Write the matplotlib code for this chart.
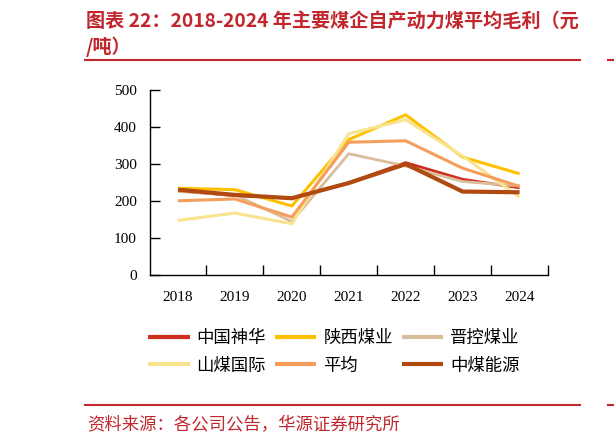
import matplotlib
matplotlib.use("Agg")
import matplotlib.pyplot as plt
import numpy as np

# data (元/吨)
years = ['2018', '2019', '2020', '2021', '2022', '2023', '2024']
shenhua = [228, 215, 208, 250, 304, 259, 236]
shaanxi = [235, 231, 187, 366, 433, 319, 274]
jinkong = [226, 217, 145, 328, 295, 253, 241]
shanmei = [148, 168, 139, 382, 420, 322, 211]
average = [201, 206, 157, 359, 363, 289, 240]
zhongmei = [231, 217, 208, 249, 300, 226, 224]

names = ['中国神华', '陕西煤业', '晋控煤业', '山煤国际', '平均', '中煤能源']
series = [shenhua, shaanxi, jinkong, shanmei, average, zhongmei]
colors = ['#CE2E1E', '#FFC000', '#D9BE9C', '#F8E48E', '#F59E5C', '#B04A10']
widths = [2.0, 2.2, 2.0, 2.2, 2.2, 3.0]

cjk = ['Noto Sans CJK SC', 'DejaVu Sans']
red = '#C1272D'

fig = plt.figure(figsize=(6.14, 4.43), dpi=100)
ax = fig.add_axes([149.5 / 614, 1 - 275.3 / 443, (548 - 149.5) / 614, (275.3 - 90) / 443])

x = np.arange(len(years))
lines = []
for vals, name, c, lw in zip(series, names, colors, widths):
    ln, = ax.plot(x, vals, color=c, lw=lw, label=name, solid_capstyle='butt')
    lines.append(ln)

ax.set_xlim(-0.5, len(years) - 0.5)
ax.set_ylim(0, 500)
ax.set_yticks(np.arange(0, 501, 100))
ax.set_xticks(x)
ax.set_xticklabels(years)
ax.set_xticks(np.arange(0.5, len(years), 1), minor=True)
for lab in ax.get_xticklabels() + ax.get_yticklabels():
    lab.set_fontfamily('Liberation Serif')
    lab.set_fontsize(11)
ax.tick_params(axis='x', which='major', length=0, pad=11)
ax.tick_params(axis='x', which='minor', direction='in', length=7, width=1)
ax.tick_params(axis='y', direction='in', length=7, width=1, pad=9)
for s in ['top', 'right']:
    ax.spines[s].set_visible(False)
for s in ['left', 'bottom']:
    ax.spines[s].set_linewidth(1)

# legend fills by column, so reorder to read row by row like the original
order = [0, 3, 1, 4, 2, 5]
leg = fig.legend([lines[i] for i in order], [names[i] for i in order],
                 loc='upper left', bbox_to_anchor=(148 / 614, 1 - 329 / 443), ncol=3,
                 frameon=False, prop={'family': cjk, 'size': 12.5},
                 handlelength=2.4, handletextpad=0.4, columnspacing=0.5,
                 labelspacing=0.55, borderaxespad=0, borderpad=0)
for h in leg.get_lines():
    h.set_linewidth(3)

# title and source
fig.text(86 / 614, 1 - 21.5 / 443, '图表 22：2018-2024 年主要煤企自产动力煤平均毛利（元',
         family=cjk, fontsize=13.8, weight='bold', color=red, va='center')
fig.text(86 / 614, 1 - 47 / 443, '/吨）', family=cjk, fontsize=13.8, weight='bold',
         color=red, va='center')
fig.add_artist(plt.Line2D([85 / 614, 580 / 614], [1 - 59.5 / 443] * 2, color=red, lw=1.5))
fig.add_artist(plt.Line2D([608 / 614, 614 / 614], [1 - 59.5 / 443] * 2, color=red, lw=1.5))
fig.add_artist(plt.Line2D([85 / 614, 580 / 614], [1 - 405 / 443] * 2, color=red, lw=1.5))
fig.add_artist(plt.Line2D([608 / 614, 614 / 614], [1 - 405 / 443] * 2, color=red, lw=1.5))
fig.text(87 / 614, 1 - 425 / 443, '资料来源：各公司公告，华源证券研究所',
         family=cjk, fontsize=12.5, color=red, va='center')

fig.savefig('out.png', dpi=100)
